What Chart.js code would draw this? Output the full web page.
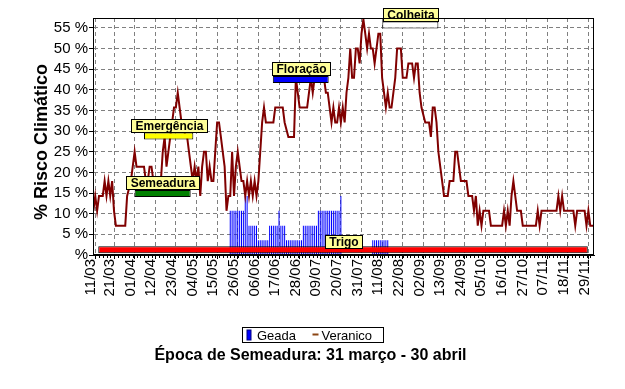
<!DOCTYPE html>
<html><head><meta charset="utf-8">
<script src="https://cdn.jsdelivr.net/npm/chart.js@4"></script>
<style>html,body{margin:0;padding:0;background:#fff}</style>
</head><body>
<canvas id="c" width="625" height="389"></canvas>
<script>
// ---- data ----
const xTickDays = [0,10,21,32,43,54,65,76,87,98,109,120,131,142,153,164,175,186,197,208,219,230,241,252,263];
const xTickLabels = ['11/03','21/03','01/04','12/04','23/04','04/05','15/05','26/05','06/06','17/06','28/06','09/07','20/07','31/07','11/08','22/08','02/09','13/09','24/09','05/10','16/10','27/10','07/11','18/11','29/11'];

const veranicoDays = [-1,0,1,2,4,5,6,7,8,9,10,11,16,17,19,21,22,26,27,28,29,30,31,35,36,37,38,39,40,41,42,43,44,45,46,47,48,49,50,51,52,53,54,55,56,57,58,59,60,61,62,63,64,65,66,67,68,69,70,71,72,73,74,75,76,77,78,79,80,81,82,83,84,85,86,87,88,89,90,91,95,96,100,101,103,106,107,108,109,113,114,115,116,117,118,119,121,122,123,124,125,126,127,128,129,130,131,132,133,134,135,136,137,138,139,140,141,142,143,144,145,146,147,148,149,150,151,152,153,154,155,156,157,158,159,160,161,163,164,166,167,169,170,171,172,173,174,176,178,179,180,181,182,183,184,185,186,188,189,191,192,193,194,195,198,199,201,202,203,204,205,206,207,210,211,217,218,219,220,221,222,223,225,227,228,235,236,237,238,246,247,248,249,250,255,256,257,261,262,263,264,266];
const veranicoValues = [10.7,14.3,10.7,14.3,14.3,17.9,14.3,17.9,14.3,17.9,10.7,7.1,7.1,14.3,17.9,25.0,21.4,21.4,17.9,17.9,21.4,21.4,17.9,17.9,25.0,28.6,21.4,25.0,28.6,32.1,35.7,35.7,39.3,35.7,32.1,32.1,28.6,28.6,25.0,21.4,17.9,21.4,17.9,21.4,14.3,21.4,25.0,25.0,17.9,21.4,17.9,17.9,25.0,32.1,32.1,28.6,25.0,21.4,10.7,14.3,14.3,25.0,14.3,21.4,25.0,21.4,17.9,17.9,14.3,17.9,14.3,17.9,14.3,17.9,14.3,17.9,25.0,32.1,35.7,32.1,32.1,35.7,35.7,32.1,28.6,28.6,42.9,39.3,35.7,35.7,39.3,42.9,39.3,42.9,42.9,46.4,46.4,42.9,39.3,39.3,35.7,32.1,35.7,32.1,32.1,35.7,32.1,35.7,32.1,39.3,42.9,50.0,42.9,42.9,50.0,50.0,46.4,53.6,57.1,53.6,50.0,53.6,50.0,50.0,46.4,50.0,53.6,53.6,42.9,39.3,35.7,39.3,35.7,35.7,39.3,42.9,50.0,50.0,42.9,42.9,46.4,46.4,42.9,46.4,46.4,39.3,35.7,32.1,32.1,28.6,35.7,35.7,32.1,25.0,21.4,17.9,14.3,14.3,17.9,17.9,25.0,25.0,21.4,17.9,17.9,14.3,14.3,10.7,14.3,7.1,10.7,7.1,10.7,10.7,7.1,7.1,10.7,7.1,10.7,7.1,14.3,17.9,10.7,10.7,7.1,7.1,10.7,7.1,10.7,10.7,14.3,10.7,14.3,10.7,10.7,7.1,10.7,10.7,7.1,10.7,7.1,7.1];

const geadaDays = [72,73,74,75,76,77,78,79,80,81,82,83,84,85,86,87,88,89,90,91,92,93,94,95,96,97,98,99,100,101,102,103,104,105,106,107,108,109,110,111,112,113,114,115,116,117,118,119,120,121,122,123,124,125,126,127,128,129,130,131,148,149,150,151,152,153,154,155,156];
const geadaValues = [10.7,10.7,10.7,10.7,10.7,10.7,10.7,10.7,14.3,14.3,7.1,7.1,7.1,7.1,7.1,3.6,3.6,3.6,3.6,3.6,3.6,7.1,7.1,7.1,7.1,7.1,10.7,7.1,7.1,7.1,3.6,3.6,3.6,3.6,3.6,3.6,3.6,3.6,3.6,7.1,7.1,7.1,7.1,7.1,7.1,7.1,7.1,10.7,10.7,10.7,10.7,10.7,10.7,10.7,10.7,10.7,10.7,10.7,10.7,14.3,3.6,3.6,3.6,3.6,3.6,3.6,3.6,3.6,3.6];

const phaseNames = ['Trigo','Semeadura','Emergência','Floração','Colheita'];
const phaseStart = [1.6, 21, 26, 94.7, 153.1];
const phaseEnd   = [262.7, 50.9, 52.3, 124.5, 183];
const phaseLevel = [1.3, 14.9, 28.8, 42.5, 55.7];
const phaseColors = ['#FF0000','#008000','#FFFF00','#0000FF','#FFFFFF'];

// ---- chart ----
const FONT = "'Liberation Sans', Arial, sans-serif";
const veranicoPts = veranicoDays.map((d,i)=>({x:d, y:veranicoValues[i]}));
const geadaPts = geadaDays.map((d,i)=>({x:d, y:geadaValues[i]}));
const phasePts = phaseNames.map((n,i)=>({x:[phaseStart[i], phaseEnd[i]], y:phaseLevel[i]}));

const decor = {
  id:'decor',
  afterDatasetsDraw(chart){
    const ctx = chart.ctx;
    const meta = chart.getDatasetMeta(2);
    ctx.save();
    ctx.font = 'bold 12px ' + FONT;
    meta.data.forEach((bar,i)=>{
      const p = bar.getProps(['x','y','base','height'], true);
      const left = Math.min(p.x,p.base), right = Math.max(p.x,p.base);
      const cx = (left+right)/2;
      const top = p.y - p.height/2;
      const tw = ctx.measureText(phaseNames[i]).width;
      const bw = Math.round(tw + 8), bh = 13;
      const bx = Math.round(cx - bw/2) + 0.5;
      const by = Math.round(i === 0 ? top + 2 - bh : top - 1 - bh) + 0.5;
      ctx.fillStyle = '#FFFF99';
      ctx.fillRect(bx, by, bw, bh);
      ctx.strokeStyle = '#000'; ctx.lineWidth = 1;
      ctx.strokeRect(bx, by, bw, bh);
      ctx.fillStyle = '#000'; ctx.textAlign = 'center'; ctx.textBaseline = 'middle';
      ctx.fillText(phaseNames[i], bx + bw/2, by + bh/2 + 0.5);
    });
    ctx.restore();
  },
  afterDraw(chart){
    const ctx = chart.ctx, a = chart.chartArea, xs = chart.scales.x;
    ctx.save();
    // frame
    ctx.strokeStyle = '#000'; ctx.lineWidth = 1;
    ctx.strokeRect(Math.round(a.left)+0.5, Math.round(a.top)+0.5, Math.round(a.right-a.left)-1, Math.round(a.bottom-a.top)-1);
    // minor ticks on x axis
    ctx.beginPath();
    for (let d = 0; d <= 264; d += 2) {
      const px = Math.round(xs.getPixelForValue(d)) + 0.5;
      ctx.moveTo(px, a.bottom); ctx.lineTo(px, a.bottom + 3);
    }
    ctx.stroke();
    // y axis title
    ctx.save();
    ctx.translate(42, 142); ctx.rotate(-Math.PI/2);
    ctx.font = 'bold 18px ' + FONT; ctx.fillStyle = '#000';
    ctx.textAlign = 'center'; ctx.textBaseline = 'middle';
    ctx.fillText('% Risco Climático', 0, 0);
    ctx.restore();
    // legend
    const cx = chart.width/2;
    const lx = Math.round(cx - 71) + 0.5, ly = 327.5;
    ctx.fillStyle = '#fff'; ctx.fillRect(lx, ly, 141, 15);
    ctx.strokeStyle = '#000'; ctx.strokeRect(lx, ly, 141, 15);
    ctx.fillStyle = '#0000FF'; ctx.fillRect(lx + 4.5, ly + 2.5, 4, 10);
    ctx.strokeStyle = '#000080'; ctx.strokeRect(lx + 4.5, ly + 2.5, 4, 10);
    ctx.font = '13px ' + FONT; ctx.fillStyle = '#000'; ctx.textAlign = 'left'; ctx.textBaseline = 'alphabetic';
    ctx.fillText('Geada', lx + 14.5, ly + 12);
    ctx.strokeStyle = '#8B4513'; ctx.lineWidth = 2;
    ctx.beginPath(); ctx.moveTo(lx + 70, ly + 7); ctx.lineTo(lx + 76, ly + 7); ctx.stroke();
    ctx.fillText('Veranico', lx + 79, ly + 12);
    // title
    ctx.font = 'bold 16px ' + FONT; ctx.textAlign = 'center';
    ctx.fillText('Época de Semeadura: 31 março - 30 abril', cx - 2, 359.5);
    ctx.restore();
  }
};

new Chart(document.getElementById('c'), {
  type: 'bar',
  data: { datasets: [
    { type:'line', label:'Veranico', data: veranicoPts, borderColor:'#800000', backgroundColor:'#800000', borderWidth:2, pointRadius:0, tension:0, order:2, xAxisID:'x', yAxisID:'y' },
    { type:'bar', label:'Geada', data: geadaPts, backgroundColor:'#0000FF', barThickness:1, inflateAmount:0, order:3, xAxisID:'x', yAxisID:'y' },
    { type:'bar', label:'Fases', data: phasePts, indexAxis:'y', grouped:false, backgroundColor: phaseColors, borderColor:'#000', borderWidth:1, borderSkipped:false, inflateAmount:0, barThickness:7, maxBarThickness:7, order:1, xAxisID:'x', yAxisID:'y2' }
  ]},
  options: {
    responsive:false, animation:false, devicePixelRatio:1,
    layout:{padding:{left:0, right:31, top:18, bottom:74}},
    plugins:{legend:{display:false}, tooltip:{enabled:false}, title:{display:false}},
    scales:{
      x:{ type:'linear', min:-1.2, max:266, position:'bottom', offset:false,
          afterBuildTicks: s => { s.ticks = xTickDays.map(v=>({value:v})); },
          afterFit: s => { s.height = 60; },
          ticks:{ autoSkip:false, maxRotation:90, minRotation:90, labelOffset:-4, padding:0, color:'#000', font:{family:FONT, size:15},
                  callback:(v,i)=> xTickLabels[i] },
          grid:{ offset:false, color:'#808080', tickColor:'#000', tickLength:4, tickBorderDash:[] },
          border:{ color:'#000', dash:[4,3] } },
      y:{ type:'linear', min:0, max:57.4, position:'left', offset:false,
          afterFit: s => { s.width = 93; },
          ticks:{ stepSize:5, includeBounds:false, padding:1, color:'#000', font:{family:FONT, size:15},
                  callback: v => v === 0 ? '%' : v + ' %' },
          grid:{ offset:false, color:'#808080', tickColor:'#000', tickLength:4, tickBorderDash:[] },
          border:{ color:'#000', dash:[4,3] } },
      y2:{ type:'linear', display:false, min:0, max:57.4, offset:false, grid:{offset:false} }
    }
  },
  plugins:[decor]
});
</script>
</body></html>
